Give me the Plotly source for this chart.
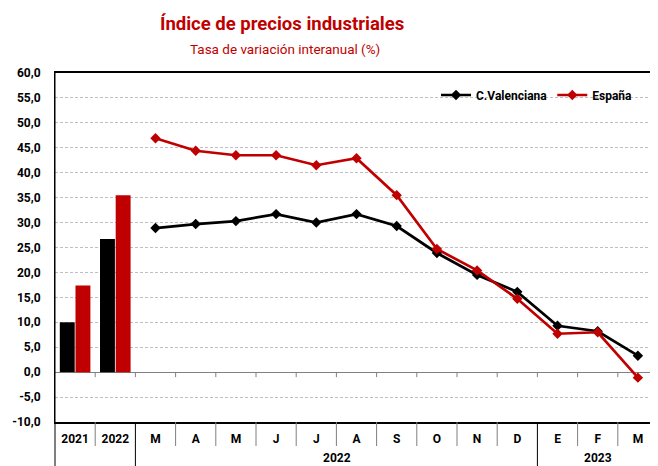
import plotly.graph_objects as go

# ---- data ----
x_ids = ["2021", "2022", "Mar22", "Abr22", "May22", "Jun22", "Jul22", "Ago22",
         "Sep22", "Oct22", "Nov22", "Dic22", "Ene23", "Feb23", "Mar23"]
tick_labels = ["2021", "2022", "M", "A", "M", "J", "J", "A", "S", "O", "N", "D", "E", "F", "M"]
annual_ids = ["2021", "2022"]
month_ids = x_ids[2:]
cv_annual = [10.0, 26.7]
es_annual = [17.4, 35.5]
cv_monthly = [28.9, 29.7, 30.3, 31.7, 30.0, 31.7, 29.3, 23.9, 19.5, 16.1, 9.3, 8.2, 3.3]
es_monthly = [46.9, 44.4, 43.5, 43.5, 41.5, 42.9, 35.5, 24.7, 20.4, 14.7, 7.7, 8.0, -1.1]
y_ticks = [-10, -5, 0, 5, 10, 15, 20, 25, 30, 35, 40, 45, 50, 55, 60]
y_tick_labels = ["-10,0", "-5,0", "0,0", "5,0", "10,0", "15,0", "20,0", "25,0", "30,0",
                 "35,0", "40,0", "45,0", "50,0", "55,0", "60,0"]
year_labels = ["2022", "2023"]
series_names = ["C.Valenciana", "España"]
title = "Índice de precios industriales"
subtitle = "Tasa de variación interanual (%)"

BLACK = "#000000"
RED = "#C00000"
FONT = "Roboto, Liberation Sans, Arial, sans-serif"

# page body has an 8px margin, so the figure is 8px smaller than the window
OFF = 8
W, H = 658 - OFF, 466 - OFF
L, R, T, B = 55 - OFF, 0, 73 - OFF, 44
PW, PH = W - L - R, H - T - B
n = len(x_ids)


def px_x(px):  # window pixel -> paper x
    return (px - OFF - L) / PW


def px_y(py):  # window pixel -> paper y
    return (H - B - (py - OFF)) / PH


fig = go.Figure()
fig.add_trace(go.Bar(x=annual_ids, y=cv_annual, marker=dict(color=BLACK, line=dict(width=0)),
                     showlegend=False, name=series_names[0]))
fig.add_trace(go.Bar(x=annual_ids, y=es_annual, marker=dict(color=RED, line=dict(width=0)),
                     showlegend=False, name=series_names[1]))
fig.add_trace(go.Scatter(x=month_ids, y=cv_monthly, mode="lines+markers",
                         name="<b>%s</b>" % series_names[0],
                         line=dict(color=BLACK, width=2.7),
                         marker=dict(symbol="diamond", size=8, color=BLACK)))
fig.add_trace(go.Scatter(x=month_ids, y=es_monthly, mode="lines+markers",
                         name="<b>%s</b>" % series_names[1],
                         line=dict(color=RED, width=2.7),
                         marker=dict(symbol="diamond", size=8, color=RED)))

shapes = []
# ticks on zero line at category boundaries
for k in range(n - 1):
    shapes.append(dict(type="line", xref="x", yref="y", x0=k + 0.5, x1=k + 0.5, y0=0, y1=-1,
                       line=dict(color="#808080", width=1)))
# category table dividers under the plot
short_drop = px_y(446)
long_drop = px_y(466)
for k in range(n - 1):
    xp = (k + 1) / n
    long = k in (1, 11)
    shapes.append(dict(type="line", xref="paper", yref="paper", x0=xp, x1=xp, y0=0,
                       y1=long_drop if long else short_drop,
                       line=dict(color=BLACK if long else "#7f7f7f", width=1)))
shapes.append(dict(type="line", xref="paper", yref="paper", x0=0, x1=0, y0=1, y1=long_drop,
                   line=dict(color=BLACK, width=1)))

annotations = [
    dict(text="<b>" + title + "</b>", xref="paper", yref="paper", x=px_x(282), y=px_y(24),
         showarrow=False, font=dict(family=FONT, size=18.5, color=RED), xanchor="center", yanchor="middle"),
    dict(text=subtitle, xref="paper", yref="paper", x=px_x(285), y=px_y(49),
         showarrow=False, font=dict(family=FONT, size=13.5, color=RED), xanchor="center", yanchor="middle"),
    dict(text="<b>%s</b>" % year_labels[0], xref="paper", yref="paper", x=px_x(337), y=px_y(458),
         showarrow=False, font=dict(family=FONT, size=12, color=BLACK), xanchor="center", yanchor="middle"),
    dict(text="<b>%s</b>" % year_labels[1], xref="paper", yref="paper", x=px_x(598), y=px_y(458),
         showarrow=False, font=dict(family=FONT, size=12, color=BLACK), xanchor="center", yanchor="middle"),
]

fig.update_layout(
    width=W, height=H,
    margin=dict(l=L, r=R, t=T, b=B, pad=0, autoexpand=False),
    paper_bgcolor="white", plot_bgcolor="white",
    barmode="group", bargap=0.22, bargroupgap=0.05,
    font=dict(family=FONT, size=12, color=BLACK),
    shapes=shapes, annotations=annotations,
    legend=dict(orientation="h", x=px_x(436), y=px_y(95), xanchor="left", yanchor="middle",
                font=dict(family=FONT, size=12, color=BLACK), bgcolor="rgba(0,0,0,0)",
                itemwidth=30, tracegroupgap=0),
)
fig.update_xaxes(
    type="category", categoryorder="array", categoryarray=x_ids,
    range=[-0.5, n - 0.5], automargin=False,
    tickmode="array", tickvals=x_ids, ticktext=["<b>%s</b>" % t for t in tick_labels],
    tickfont=dict(family=FONT, size=12, color=BLACK),
    ticks="", ticklabelstandoff=5,
    showline=True, linecolor=BLACK, linewidth=1.5, mirror=True,
    showgrid=False, zeroline=False,
)
fig.update_yaxes(
    range=[-10, 60], tickmode="array", tickvals=y_ticks, automargin=False,
    ticktext=["<b>%s</b>" % t for t in y_tick_labels],
    tickfont=dict(family=FONT, size=12, color=BLACK),
    ticks="", ticklabelstandoff=11,
    showline=True, linecolor=BLACK, linewidth=1,
    showgrid=True, gridcolor="#BFBFBF", gridwidth=1, griddash="3px,2px",
    zeroline=True, zerolinecolor="#808080", zerolinewidth=1,
)

fig.write_html("out.html")
